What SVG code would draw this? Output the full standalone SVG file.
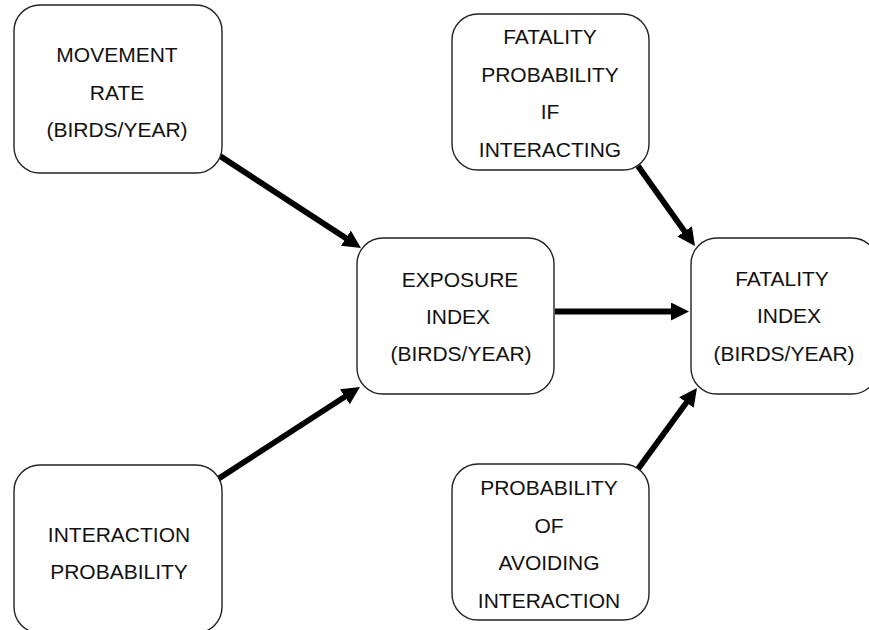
<svg xmlns="http://www.w3.org/2000/svg" width="869" height="630" viewBox="0 0 869 630">
<style>
.box{fill:#fff;stroke:#222;stroke-width:1.4}
.t{font-family:"Liberation Sans",Arial,sans-serif;font-size:21px;fill:#111;text-anchor:middle}
.c{stroke:#000;stroke-width:5.8;fill:none;marker-end:url(#ah)}
</style>
<defs>
<marker id="ah" markerUnits="userSpaceOnUse" markerWidth="18" markerHeight="18" viewBox="0 0 18 18" refX="8" refY="9" orient="auto">
<path d="M0,0 L18,9 L0,18 z" fill="#000"/>
</marker>
</defs>
<rect width="869" height="630" fill="#fff"/>
<g id="connectors">
<path class="c" d="M220,156 L352.6,242.5"/>
<path class="c" d="M218,479 L351.6,392.4"/>
<path class="c" d="M555,311.5 L679,311.5"/>
<path class="c" d="M638,166 L689.2,237.9"/>
<path class="c" d="M638,469 L691.1,396.1"/>
</g>
<g id="movement-rate">
<rect class="box" x="14" y="5" width="208" height="168" rx="26"/>
<text class="t" x="117" y="62">MOVEMENT</text>
<text class="t" x="117" y="100">RATE</text>
<text class="t" x="117" y="137">(BIRDS/YEAR)</text>
</g>
<g id="interaction-probability">
<rect class="box" x="14" y="465" width="208" height="168" rx="26"/>
<text class="t" x="119" y="542">INTERACTION</text>
<text class="t" x="119" y="579">PROBABILITY</text>
</g>
<g id="exposure-index">
<rect class="box" x="357" y="238" width="197" height="156" rx="26"/>
<text class="t" x="460" y="287">EXPOSURE</text>
<text class="t" x="458" y="324">INDEX</text>
<text class="t" x="461" y="361">(BIRDS/YEAR)</text>
</g>
<g id="fatality-probability">
<rect class="box" x="452" y="14" width="197" height="156" rx="26"/>
<text class="t" x="550" y="44">FATALITY</text>
<text class="t" x="550" y="82">PROBABILITY</text>
<text class="t" x="550" y="119">IF</text>
<text class="t" x="550" y="157">INTERACTING</text>
</g>
<g id="fatality-index">
<rect class="box" x="691" y="238" width="187" height="156" rx="26"/>
<text class="t" x="782" y="286">FATALITY</text>
<text class="t" x="789" y="323">INDEX</text>
<text class="t" x="784" y="361">(BIRDS/YEAR)</text>
</g>
<g id="probability-avoiding">
<rect class="box" x="452" y="464" width="197" height="156" rx="26"/>
<text class="t" x="549" y="495">PROBABILITY</text>
<text class="t" x="549" y="533">OF</text>
<text class="t" x="549" y="570">AVOIDING</text>
<text class="t" x="549" y="608">INTERACTION</text>
</g>
</svg>
